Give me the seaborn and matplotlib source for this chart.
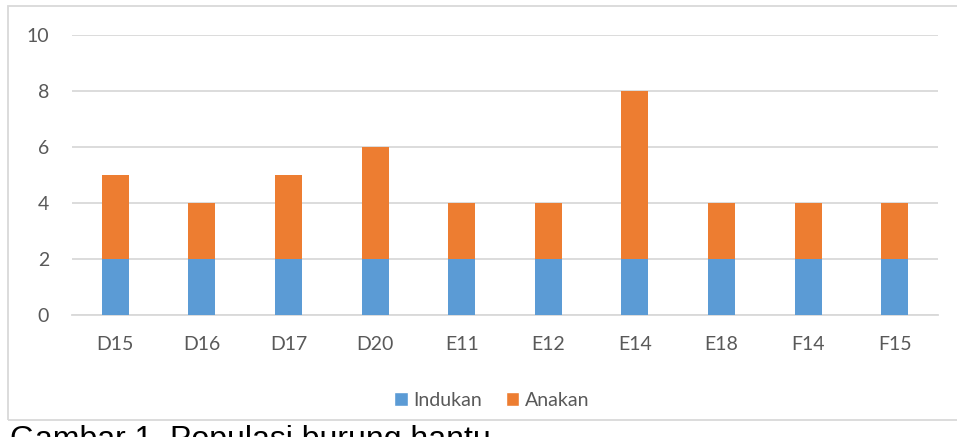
import matplotlib
matplotlib.use("Agg")
import matplotlib.pyplot as plt
from matplotlib.patches import Patch, Rectangle
import seaborn as sns
import pandas as pd
import numpy as np

categories = ["D15", "D16", "D17", "D20", "E11", "E12", "E14", "E18", "F14", "F15"]
indukan = [2, 2, 2, 2, 2, 2, 2, 2, 2, 2]
anakan = [3, 2, 3, 4, 2, 2, 6, 2, 2, 2]
yticks = [0, 2, 4, 6, 8, 10]

BLUE = "#5B9BD5"
ORANGE = "#ED7D31"
TXT = "#595959"
GRID = "#D9D9D9"

sns.set_theme(style="white")
plt.rcParams['font.family'] = ['Lato', 'DejaVu Sans']

df = pd.DataFrame({"cat": categories, "Indukan": indukan, "Anakan": anakan})
df["total"] = df["Indukan"] + df["Anakan"]

fig = plt.figure(figsize=(9.57, 4.37), dpi=100)
ax = fig.add_axes([72/957, (437-315)/437, 866/957, 280/437])

sns.barplot(data=df, x="cat", y="total", color=ORANGE, width=0.313,
            saturation=1, ax=ax, zorder=3, linewidth=0)
sns.barplot(data=df, x="cat", y="Indukan", color=BLUE, width=0.313,
            saturation=1, ax=ax, zorder=3, linewidth=0)

ax.set_ylim(0, 10)
ax.set_xlim(-0.5, len(categories) - 0.5)
ax.set_yticks(yticks)
ax.yaxis.grid(True, color=GRID, linewidth=1.3, zorder=0)
ax.set_axisbelow(True)
for s in ["top", "right", "left"]:
    ax.spines[s].set_visible(False)
ax.spines["bottom"].set_color(GRID)
ax.spines["bottom"].set_linewidth(1.3)
ax.set_xlabel("")
ax.set_ylabel("")
ax.tick_params(axis="y", length=0, pad=16.5, labelsize=14, labelcolor=TXT)
ax.tick_params(axis="x", which="major", length=0, pad=15, labelsize=14, labelcolor=TXT)
ax.set_xticks(np.arange(-0.5, len(categories), 1.0), minor=True)
ax.tick_params(axis="x", which="minor", length=6, width=1.3, color=GRID)

handles = [Patch(facecolor=BLUE, label="Indukan"), Patch(facecolor=ORANGE, label="Anakan")]
fig.legend(handles=handles, loc="center", bbox_to_anchor=(492/957, (437-400)/437),
           ncol=2, frameon=False, fontsize=14, labelcolor=TXT,
           handlelength=0.7, handleheight=0.7, handletextpad=0.3, columnspacing=1.2)

# chart frame
fig.patches.append(Rectangle((8/957, (437-420)/437), 1.2, (420-6)/437,
                             transform=fig.transFigure, fill=False,
                             edgecolor=GRID, linewidth=1.3, zorder=0))

fig.text(10/957, (437-425)/437, "Gambar 1. Populasi burung hantu",
         fontfamily="Liberation Sans", fontsize=23, color="black",
         ha="left", va="top")

fig.savefig("out.png", dpi=100)
